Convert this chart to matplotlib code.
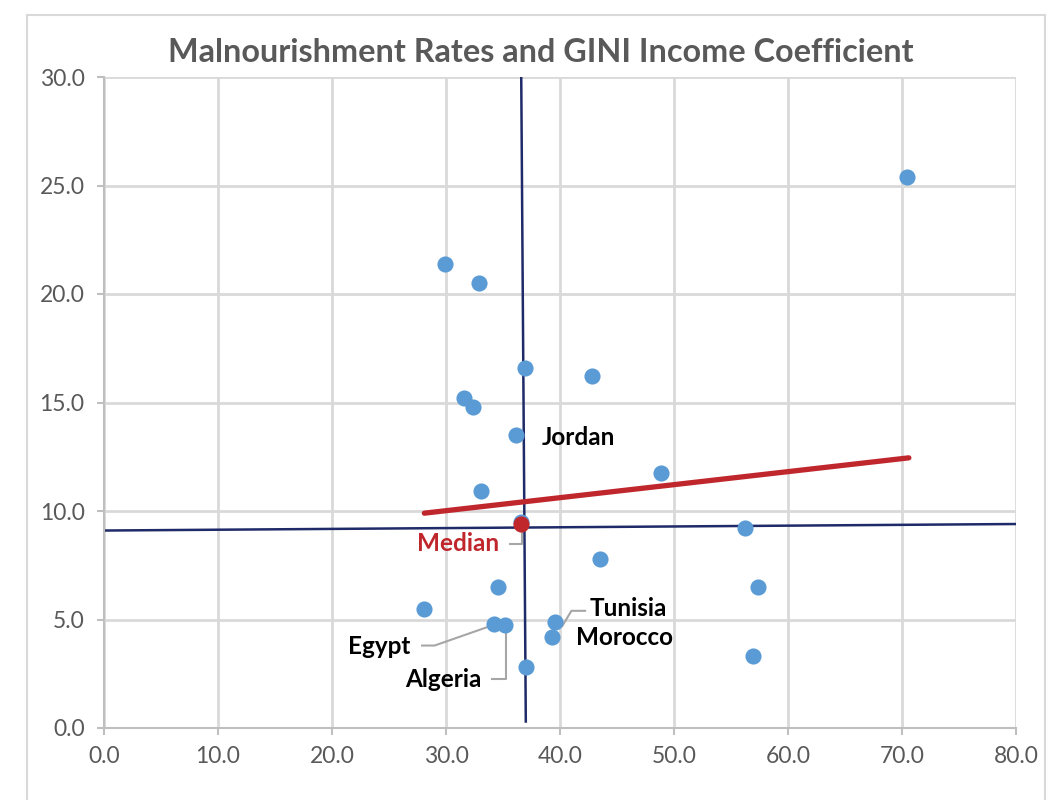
import matplotlib.pyplot as plt
from matplotlib.patches import Rectangle

plt.rcParams['font.family'] = ['Lato', 'DejaVu Sans']

# GINI coefficient (x) and malnourishment rate (y)
gini = [70.4, 29.9, 32.9, 36.9, 42.8, 31.6, 32.4, 36.1, 48.9, 33.1, 36.6,
        56.2, 43.5, 34.6, 57.4, 28.1, 34.2, 35.2, 39.6, 39.3, 37.0, 56.9]
malnour = [25.4, 21.4, 20.5, 16.6, 16.2, 15.2, 14.8, 13.5, 11.75, 10.9, 9.5,
           9.2, 7.8, 6.5, 6.5, 5.5, 4.8, 4.75, 4.9, 4.2, 2.8, 3.3]

median_pt = (36.6, 9.4)
# median cross lines (endpoints) and trend line
vline_x = [36.6, 37.0]
vline_y = [30.0, 0.3]
hline_x = [0.0, 80.0]
hline_y = [9.1, 9.4]
trend_x = [28.1, 70.6]
trend_y = [9.9, 12.45]

blue = '#5B9BD5'
navy = '#1F2A68'
red = '#C0272D'
grey = '#595959'

fig = plt.figure(figsize=(10.52, 8), dpi=100)
fig.patches.append(Rectangle((27/1052, -0.1), (1045-27)/1052, 1.1 - 15/800,
                             transform=fig.transFigure, fill=False,
                             edgecolor='#d9d9d9', linewidth=1.5))
ax = fig.add_axes([104/1052, 72/800, 912/1052, 651/800])

ax.grid(True, color='#d9d9d9', linewidth=2)
ax.set_axisbelow(True)
ax.plot(vline_x, vline_y, color=navy, lw=1.8, zorder=2)
ax.plot(hline_x, hline_y, color=navy, lw=1.8, zorder=2)
ax.scatter(gini, malnour, s=135, color=blue, zorder=3, linewidths=0)
ax.plot(trend_x, trend_y, color=red, lw=3.8, solid_capstyle='round', zorder=4)
ax.scatter([median_pt[0]], [median_pt[1]], s=135, color=red, zorder=5, linewidths=0)

ax.set_xlim(0, 80)
ax.set_ylim(0, 30)
ax.set_xticks(range(0, 81, 10))
ax.set_yticks(range(0, 31, 5))
ax.xaxis.set_major_formatter(plt.FormatStrFormatter('%.1f'))
ax.yaxis.set_major_formatter(plt.FormatStrFormatter('%.1f'))
ax.tick_params(colors='#bfbfbf', labelcolor=grey, labelsize=16.5, length=5, width=1.5)
ax.tick_params(axis='y', pad=9)
ax.tick_params(axis='x', pad=8)
for s in ['top', 'right']:
    ax.spines[s].set_visible(False)
for s in ['left', 'bottom']:
    ax.spines[s].set_color('#bfbfbf')
    ax.spines[s].set_linewidth(1.5)

fig.text(0.514, 0.934, 'Malnourishment Rates and GINI Income Coefficient',
         ha='center', va='center', fontsize=23.3, fontweight='bold', color=grey)

lab = dict(fontsize=17.5, fontweight='bold', color='black', va='center')
ax.text(38.4, 13.4, 'Jordan', ha='left', **lab)
ax.text(42.6, 5.5, 'Tunisia', ha='left', **lab)
ax.text(41.4, 4.15, 'Morocco', ha='left', **lab)
ax.text(26.9, 3.75, 'Egypt', ha='right', **lab)
ax.text(33.1, 2.25, 'Algeria', ha='right', **lab)
ax.text(34.7, 8.5, 'Median', ha='right', fontsize=17.5, fontweight='bold',
        color=red, va='center')

lc = dict(color='#a6a6a6', lw=1.5, zorder=2)
ax.plot([35.6, 36.7, 36.7], [8.5, 8.5, 9.0], **lc)
ax.plot([40.2, 41.0, 42.2], [4.7, 5.4, 5.4], **lc)
ax.plot([27.9, 29.0, 33.9], [3.8, 3.8, 4.7], **lc)
ax.plot([34.0, 35.3, 35.3], [2.25, 2.25, 4.5], **lc)

fig.savefig('out.png', dpi=100)
